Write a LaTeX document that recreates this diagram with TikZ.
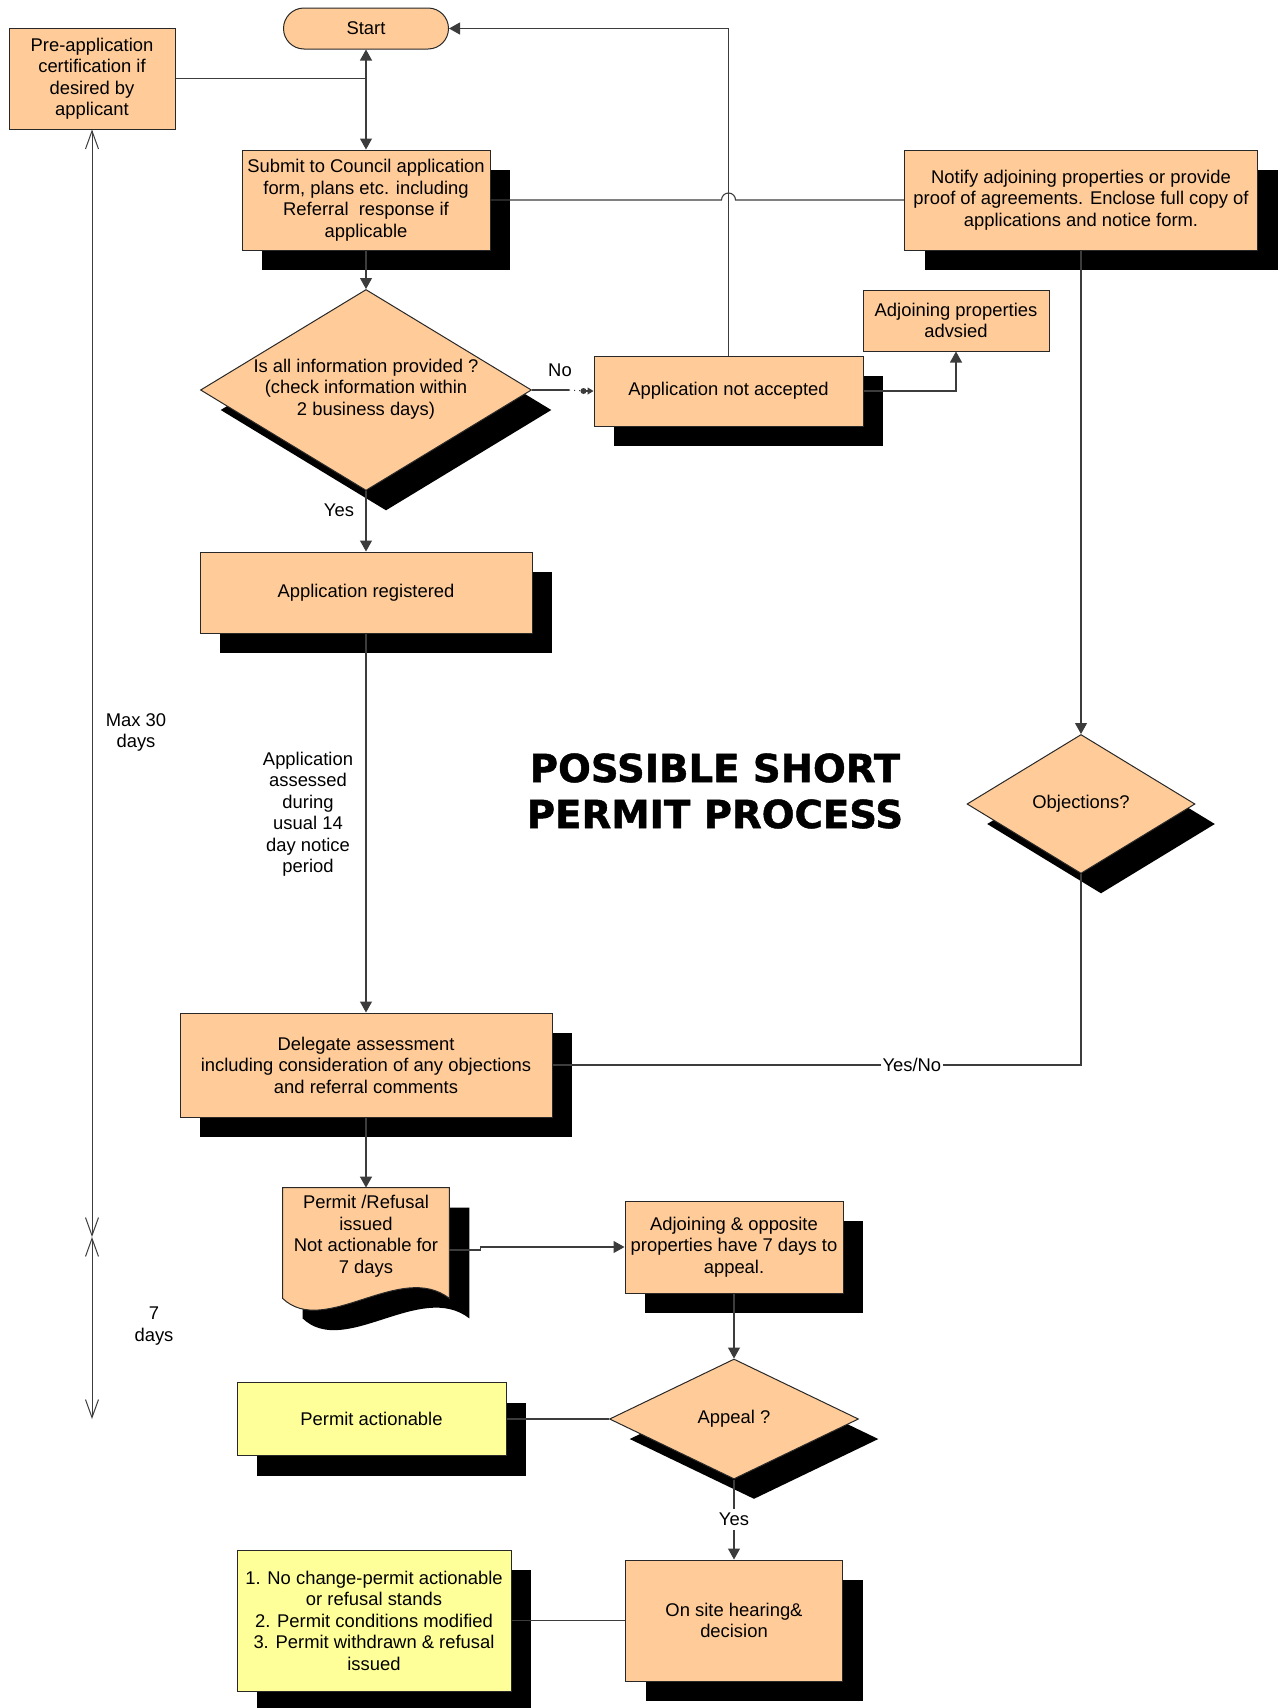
\documentclass[tikz,border=0pt]{standalone}
\usepackage{fontspec}
\setmainfont{Liberation Sans}
\newfontfamily\titlefont{DejaVu Sans}[BoldFeatures={FakeBold=1.2}]
\usetikzlibrary{shapes.geometric,arrows.meta,shadows,calc}
\definecolor{peach}{RGB}{255,204,153}
\definecolor{paleyellow}{RGB}{255,255,153}
\definecolor{edgecol}{RGB}{40,40,40}
\definecolor{wirecol}{RGB}{60,60,60}
\begin{document}
\begin{tikzpicture}[x=0.5pt,y=-0.5pt,
  every node/.style={font=\fontsize{9.2pt}{10.75pt}\selectfont},
  shadowed/.style={general shadow={fill=black,shadow xshift=10pt,shadow yshift=-10pt}},
  box/.style={rectangle,draw=edgecol,line width=0.5pt,fill=peach,align=center,inner sep=0pt},
  notebox/.style={box,fill=paleyellow},
  decision/.style={diamond,draw=edgecol,line width=0.5pt,fill=peach,inner sep=0pt},
  terminal/.style={box,rounded corners=10.25pt},
  lbl/.style={align=center,inner sep=1pt},
  wire/.style={draw=wirecol,line width=0.55pt},
  flow/.style={wire,-{Triangle[length=5.5pt,width=6pt]}},
  dimspan/.style={draw=wirecol,line width=0.5pt,{Straight Barb[length=9pt,width=6.5pt]}-{Straight Barb[length=9pt,width=6.5pt]}},
]
\useasboundingbox (0,0) rectangle (1280,1708);
\fill[white] (0,0) rectangle (1280,1708);

% ---- main column ----
\node[terminal, minimum width=82.5pt, minimum height=20.5pt] (start) at (366,28.5) {Start};
\node[box, minimum width=83pt, minimum height=50.5pt] (preapp) at (92,78.5)
  {Pre-application\\certification if\\desired by\\applicant};
\node[box, shadowed, minimum width=124pt, minimum height=50pt] (submit) at (366,200)
  {Submit to Council application\\form, plans etc. including\\Referral~ response if\\applicable};
\node[decision, shadowed, minimum width=165.5pt, minimum height=100.5pt] (check) at (366,390) {};
\node[lbl] (checktext) at (366,389)
  {Is all information provided ?\\(check information within\\2 business days)};
\node[box, shadowed, minimum width=166pt, minimum height=40.5pt] (registered) at (366,592.5)
  {Application registered};
\node[box, shadowed, minimum width=186pt, minimum height=52pt] (delegate) at (366,1065)
  {Delegate assessment\\including consideration of any objections\\and referral comments};

% document shape with a wavy lower edge
\node[minimum width=83pt, minimum height=55pt, inner sep=0pt] (issued) at (366,1243) {};
\draw[draw=edgecol, line width=0.5pt, fill=peach, shadowed]
  (issued.north west) -- (issued.south west)
  .. controls ($(issued.south west)+(42,40)$) and ($(issued.south east)+(-49,-38)$) .. (issued.south east)
  -- (issued.north east) -- cycle;
\node[lbl] (issuedtext) at (366,1236) {Permit /Refusal\\issued\\Not actionable for\\7 days};

% ---- right-hand branch ----
\node[box, shadowed, minimum width=134.5pt, minimum height=35pt] (notacc) at (728.5,391)
  {Application not accepted};
\node[box, minimum width=93pt, minimum height=30.5pt] (advised) at (956,320.5)
  {Adjoining properties\\advsied};
\node[box, shadowed, minimum width=176.5pt, minimum height=50pt] (notify) at (1081,200)
  {Notify adjoining properties or provide\\proof of agreements. Enclose full copy of\\applications and notice form.};
\node[decision, shadowed, minimum width=114pt, minimum height=69.5pt] (objections) at (1081,804) {};
\node[lbl] (objtext) at (objections) {Objections?};

% ---- appeal stage ----
\node[box, shadowed, minimum width=109pt, minimum height=46pt] (adjopp) at (734,1247)
  {Adjoining \& opposite\\properties have 7 days to\\appeal.};
\node[decision, shadowed, minimum width=124.5pt, minimum height=60pt] (appeal) at (734,1419) {};
\node[lbl] (appealtext) at (appeal) {Appeal ?};
\node[notebox, shadowed, minimum width=134.5pt, minimum height=36.5pt] (actionable) at (371.5,1419)
  {Permit actionable};
\node[box, shadowed, minimum width=108.5pt, minimum height=60.5pt] (onsite) at (734,1620.5)
  {On site hearing\&\\decision};
\node[notebox, shadowed, minimum width=137pt, minimum height=70.5pt] (outcomes) at (374,1620.5)
  {1. No change-permit actionable\\or refusal stands\\2. Permit conditions modified\\3. Permit withdrawn \& refusal\\issued};

% ---- free texts ----
\node[lbl] (assessed) at (308,814) {Application\\assessed\\during\\usual 14\\day notice\\period};
\node[lbl, font=\titlefont\bfseries\fontsize{19.3pt}{23pt}\selectfont] (title) at (715,791)
  {POSSIBLE SHORT\\PERMIT PROCESS};
\node[lbl] (maxdays) at (136,732.5) {Max 30\\days};
\node[lbl] (sevendays) at (154,1326) {7\\days};

% ---- connectors ----
\draw[wire, {Triangle[length=5.5pt,width=6pt]}-{Triangle[length=5.5pt,width=6pt]}] (start.south) -- (submit.north);
\draw[wire] (preapp.east) -- (preapp.east -| start.south);
\draw[flow] (submit.south) -- (check.north);
\draw[flow] (check.south) -- (registered.north);
\node[lbl] (yescheck) at ($(check.south)+(-27,19)$) {Yes};
\draw[flow] (registered.south) -- (delegate.north);
\draw[flow] (delegate.south) -- (issued.north);

\draw[wire] (check.east) -- ++(37,0) coordinate (dotstart);
\draw[wire, dotted] (dotstart) -- ($(notacc.west)+(-8,0)$);
\fill[wirecol] ($(notacc.west)+(-10,0)$) circle (1.5pt);
\draw[wire, -{Triangle[length=3pt,width=3.5pt]}] ($(notacc.west)+(-8,0)$) -- (notacc.west);
\node[lbl] (nocheck) at ($(check.east)+(28,-20)$) {No};

\draw[flow] (notacc.north) |- (start.east);
\draw[flow] (notacc.east) -| (advised.south);
\draw[wire] (submit.east) -- ($(notacc.north |- submit.east)+(-7,0)$)
  arc[start angle=180,end angle=0,radius=3.5pt] -- (notify.west);
\draw[flow] (notify.south) -- (objections.north);
\draw[wire] (objections.south) |- node[pos=0.66, fill=white, inner sep=1pt] (yesno) {Yes/No} (delegate.east);

\draw[flow] ($(issued.east)+(0,7)$) -- ++(31,0) -- ++(0,-3) -- (adjopp.west);
\draw[flow] (adjopp.south) -- (appeal.north);
\draw[wire] (appeal.west) -- (actionable.east);
\draw[flow] (appeal.south) -- node[fill=white, inner sep=2pt] (yesappeal) {Yes} (onsite.north);
\draw[wire] (onsite.west) -- (outcomes.east);

% ---- time spans ----
\coordinate (dimmid) at (92,1237);
\coordinate (dimend) at (92,1419);
\draw[dimspan] (preapp.south) -- (dimmid);
\draw[dimspan] (dimmid) -- (dimend);
\end{tikzpicture}
\end{document}
